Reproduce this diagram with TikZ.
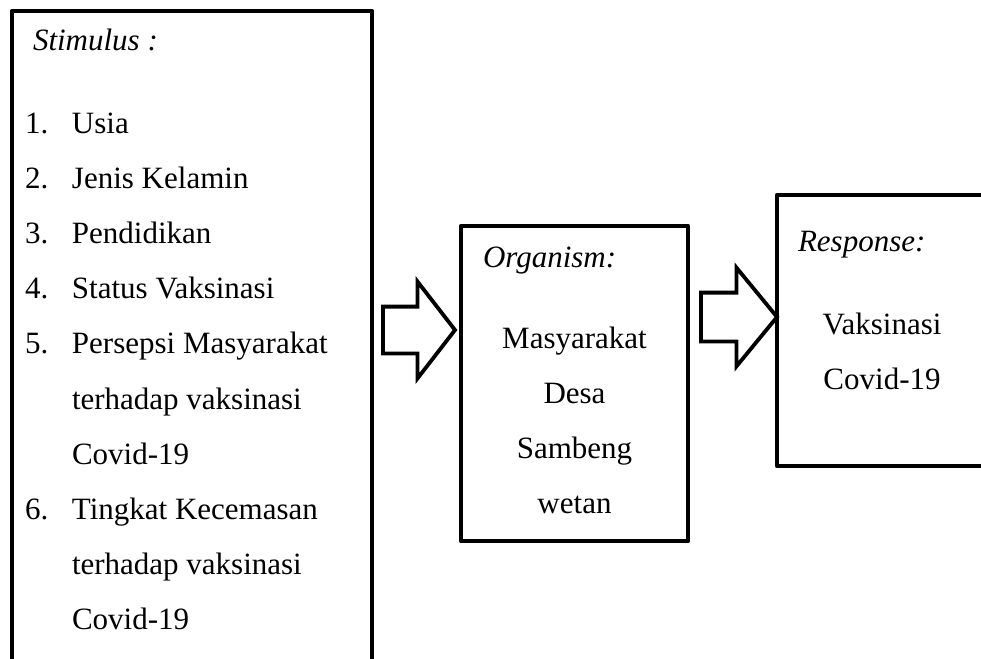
\documentclass[tikz,border=0pt]{standalone}
\usepackage{fontspec}
\setmainfont{Liberation Serif}
\usetikzlibrary{shapes.arrows, positioning}

\begin{document}
\begin{tikzpicture}[x=1pt,y=-1pt,every node/.style={inner sep=0pt,outer sep=0pt},node distance=0cm]

\tikzstyle{frame}=[rectangle,draw,line width=4.5pt,line join=round];
\tikzstyle{blockarrow}=[single arrow,draw,line width=3.8pt,inner xsep=0pt,single arrow head extend=25pt,shape border rotate=0];
\tikzstyle{txt}=[font=\fontsize{31}{55.2}\selectfont];

\useasboundingbox (0,0) rectangle (981,658);
\clip (0,0) rectangle (981,658);

% the three boxes
\node(STIMULUS) [frame, minimum width=360pt, minimum height=669pt] at (192,345.5) {};
\node(ORGANISM) [frame, minimum width=227pt, minimum height=315pt] at (574.5,383.5) {};
\node(RESPONSE) [frame, minimum width=213pt, minimum height=271pt] at (883.5,330.5) {};

% stimulus
\node(STIMTITLE) [txt, anchor=base west] at (33,51) {\textit{Stimulus :}};
\node(STIMLIST) [txt, anchor=base west] at (25,133) {\begin{tabular}[t]{@{}p{47pt}@{}l@{}}
1. & Usia\\
2. & Jenis Kelamin\\
3. & Pendidikan\\
4. & Status Vaksinasi\\
5. & Persepsi Masyarakat\\
   & terhadap vaksinasi\\
   & Covid-19\\
6. & Tingkat Kecemasan\\
   & terhadap vaksinasi\\
   & Covid-19
\end{tabular}};

% organism
\node(ORGTITLE) [txt, anchor=base west] at (483,267) {\textit{Organism:}};
\node(ORGTEXT) [txt, anchor=base] at (574.5,348) {\begin{tabular}[t]{@{}c@{}}
Masyarakat\\ Desa\\ Sambeng\\ wetan
\end{tabular}};

% response
\node(RESTITLE) [txt, anchor=base west] at (798,251) {\textit{Response:}};
\node(RESTEXT) [txt, anchor=base] at (882,334) {\begin{tabular}[t]{@{}c@{}}
Vaksinasi\\ Covid-19
\end{tabular}};

% arrows
\node(ARROWA) [blockarrow, inner ysep=21.5pt, minimum height=72pt, single arrow tip angle=104.5, anchor=tip] at (455,330) {};
\node(ARROWB) [blockarrow, inner ysep=22.5pt, minimum height=76pt, single arrow tip angle=101.2, anchor=tip] at (RESPONSE.west |- 0,317) {};

\end{tikzpicture}
\end{document}
